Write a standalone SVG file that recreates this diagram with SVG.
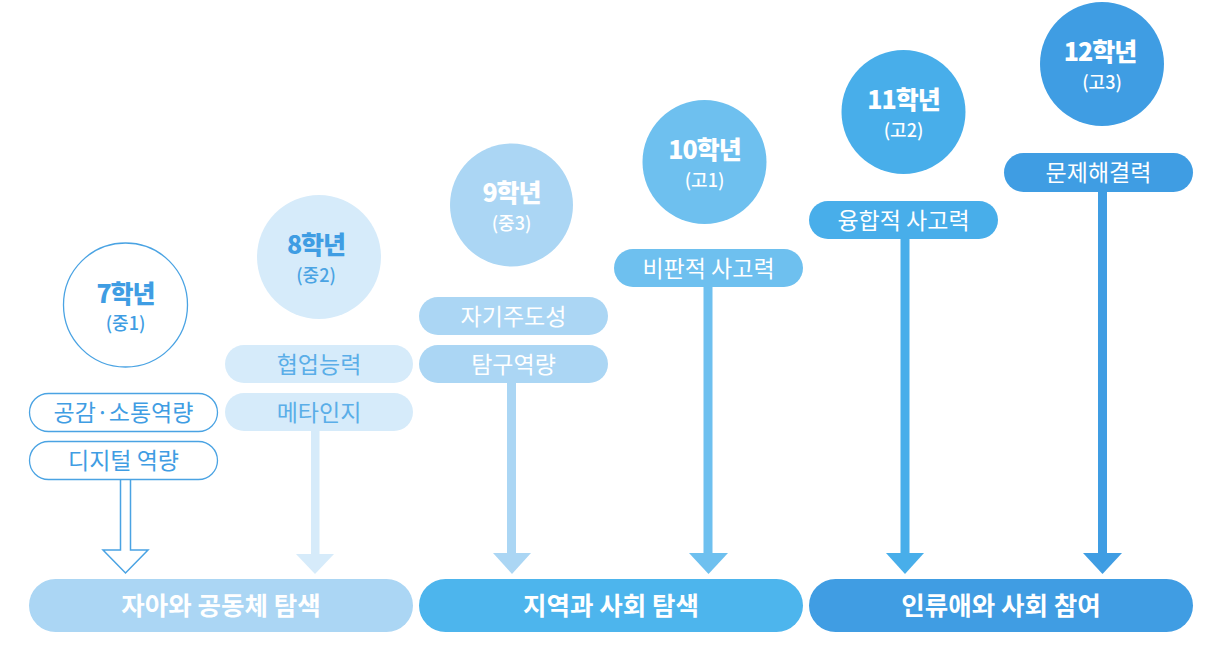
<svg xmlns="http://www.w3.org/2000/svg" width="1232" height="658" viewBox="0 0 1232 658">
<style>
text{font-family:"Noto Sans CJK KR","Noto Sans",sans-serif;text-anchor:middle}
.g{font-size:25px;font-weight:900;letter-spacing:-1px}
.s{font-size:18px;font-weight:500}
.p{font-size:23px;font-weight:400}
.b{font-size:25.5px;font-weight:700}
.w{fill:#ffffff}
</style>
<rect width="1232" height="658" fill="#ffffff"/>
<g id="connectors">
  <path d="M120.5,479 V550 H103 L125.5,573 L148,550 H130.5 V479 Z" fill="#ffffff" stroke="#4aa3e3" stroke-width="1.5" stroke-linejoin="miter"/>
  <g fill="#d6ebfa"><rect x="311" y="431" width="8.5" height="124"/><path d="M296,554 H334 L315,574 Z"/></g>
  <g fill="#abd6f4"><rect x="507" y="383" width="9" height="171"/><path d="M493,553 H531 L512,574 Z"/></g>
  <g fill="#6ec0ef"><rect x="703.5" y="287" width="9" height="267"/><path d="M689,553 H728 L708.5,574 Z"/></g>
  <g fill="#48aeea"><rect x="900.5" y="239" width="9" height="315"/><path d="M886,553 H924 L905,574 Z"/></g>
  <g fill="#3f9de3"><rect x="1098" y="192" width="9" height="362"/><path d="M1083,553 H1122 L1102.5,574 Z"/></g>
</g>
<g id="grade7">
  <circle cx="125.5" cy="305" r="62" fill="#ffffff" stroke="#4aa3e3" stroke-width="1.3"/>
  <text class="g" x="125.5" y="303" fill="#3f9de3">7학년</text>
  <text class="s" x="125.5" y="330" fill="#3f9de3">(중1)</text>
</g>
<g id="grade8">
  <circle cx="319" cy="257" r="62" fill="#d6ebfa"/>
  <text class="g" x="316" y="254" fill="#3f9de3">8학년</text>
  <text class="s" x="316" y="282" fill="#4aa3e3">(중2)</text>
</g>
<g id="grade9">
  <circle cx="511.5" cy="205" r="61.5" fill="#abd6f4"/>
  <text class="g w" x="511.5" y="202">9학년</text>
  <text class="s w" x="511.5" y="230">(중3)</text>
</g>
<g id="grade10">
  <circle cx="704.5" cy="162" r="62" fill="#6ec0ef"/>
  <text class="g w" x="704.5" y="159">10학년</text>
  <text class="s w" x="704.5" y="187">(고1)</text>
</g>
<g id="grade11">
  <circle cx="903.5" cy="112" r="62" fill="#48aeea"/>
  <text class="g w" x="903.5" y="109">11학년</text>
  <text class="s w" x="903.5" y="137">(고2)</text>
</g>
<g id="grade12">
  <circle cx="1102" cy="64" r="62" fill="#3f9de3"/>
  <text class="g w" x="1100" y="61">12학년</text>
  <text class="s w" x="1102" y="89">(고3)</text>
</g>
<g id="pill-empathy">
  <rect x="29.5" y="393.5" width="188" height="38" rx="19" fill="#ffffff" stroke="#4aa3e3" stroke-width="1.3"/>
  <text class="p" x="123.5" y="421" fill="#3f9de3">공감·소통역량</text>
</g>
<g id="pill-digital">
  <rect x="29.5" y="441.5" width="188" height="38" rx="19" fill="#ffffff" stroke="#4aa3e3" stroke-width="1.3"/>
  <text class="p" x="123.5" y="469" fill="#3f9de3">디지털 역량</text>
</g>
<g id="pill-collab">
  <rect x="225" y="345" width="188" height="38" rx="19" fill="#d6ebfa"/>
  <text class="p" x="319" y="372.5" fill="#5aaee8">협업능력</text>
</g>
<g id="pill-meta">
  <rect x="225" y="393" width="188" height="38" rx="19" fill="#d6ebfa"/>
  <text class="p" x="319" y="420.5" fill="#5aaee8">메타인지</text>
</g>
<g id="pill-self">
  <rect x="419" y="297" width="189" height="38" rx="19" fill="#abd6f4"/>
  <text class="p w" x="513.5" y="324.5">자기주도성</text>
</g>
<g id="pill-inquiry">
  <rect x="419" y="345" width="189" height="38" rx="19" fill="#abd6f4"/>
  <text class="p w" x="513.5" y="372.5">탐구역량</text>
</g>
<g id="pill-critical">
  <rect x="614" y="249" width="189" height="38" rx="19" fill="#6ec0ef"/>
  <text class="p w" x="708.5" y="276.5">비판적 사고력</text>
</g>
<g id="pill-convergent">
  <rect x="809" y="201" width="189" height="38" rx="19" fill="#48aeea"/>
  <text class="p w" x="903.5" y="228.5">융합적 사고력</text>
</g>
<g id="pill-problem">
  <rect x="1004" y="153" width="189" height="39" rx="19.5" fill="#3f9de3"/>
  <text class="p w" x="1098.5" y="181">문제해결력</text>
</g>
<g id="bar-self">
  <rect x="29" y="579" width="384" height="53" rx="26.5" fill="#abd6f4"/>
  <text class="b w" x="221" y="614.5">자아와 공동체 탐색</text>
</g>
<g id="bar-region">
  <rect x="419" y="579" width="384" height="53" rx="26.5" fill="#4db5ed"/>
  <text class="b w" x="611" y="614.5">지역과 사회 탐색</text>
</g>
<g id="bar-humanity">
  <rect x="809" y="579" width="384" height="53" rx="26.5" fill="#409de3"/>
  <text class="b w" x="1001" y="614.5">인류애와 사회 참여</text>
</g>
</svg>
